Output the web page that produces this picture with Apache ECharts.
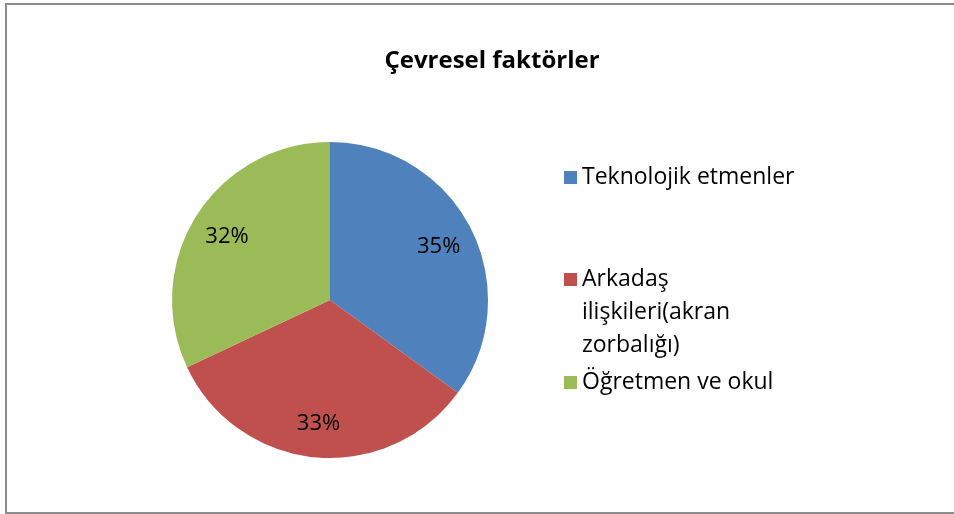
<!DOCTYPE html>
<html lang="tr">
<head>
  <meta charset="UTF-8">
  <title>Çevresel faktörler</title>
  <script src="https://cdn.jsdelivr.net/npm/echarts@6/dist/echarts.min.js"></script>
  <style>
    body { margin: 0; background: #fff; }
    #frame { position: absolute; left: 5px; top: 3px; width: 960px; height: 507px; border: 2px solid #8c8c8c; }
    #chart { position: absolute; left: 0; top: 0; width: 954px; height: 514px; }
  </style>
</head>
<body>
<div id="frame"></div>
<div id="chart"></div>
<script>
// veriler
var categories = ['Teknolojik etmenler', 'Arkadaş ilişkileri(akran zorbalığı)', 'Öğretmen ve okul'];
var values = [35, 33, 32];
var colors = ['#4F81BD', '#C0504D', '#9BBB59'];

var FONT = '"Open Sans", Lato, sans-serif';

var chart = echarts.init(document.getElementById('chart'));

var pieData = categories.map(function (name, i) {
  return { name: name, value: values[i], itemStyle: { color: colors[i] } };
});

// ayrı legend'lar: aralıklar eşit değil
// 2. öğe üç satır: kare ilk satırda dursun diye ikon kutusu uzatıldı
var legendTops = [156, 258, 361];
var legends = categories.map(function (name, i) {
  var multi = i === 1;
  return {
    orient: 'vertical',
    left: 559,
    top: legendTops[i],
    data: [name],
    icon: multi ? 'path://M0,0L13,0L13,13L0,13Z M0,79L0.01,79' : 'rect',
    itemWidth: 13,
    itemHeight: multi ? 79 : 13,
    itemGap: 0,
    selectedMode: false,
    textStyle: {
      fontFamily: FONT,
      fontSize: 23,
      color: '#000',
      lineHeight: 33,
      width: multi ? 200 : undefined,
      overflow: multi ? 'break' : 'none'
    }
  };
});

chart.setOption({
  animation: false,
  textStyle: { fontFamily: FONT },
  title: {
    text: 'Çevresel faktörler',
    left: 487,
    top: 44,
    textAlign: 'center',
    textStyle: { fontFamily: FONT, fontSize: 24, fontWeight: 'bold', color: '#000' }
  },
  legend: legends,
  series: [
    {
      type: 'pie',
      center: [330, 300],
      radius: [0, 158],
      startAngle: 90,
      clockwise: true,
      silent: true,
      label: { show: false },
      labelLine: { show: false },
      itemStyle: { borderWidth: 0 },
      data: pieData
    },
    {
      // sadece etiketler için saydam halka
      type: 'pie',
      center: [330, 302],
      radius: [80, 158],
      startAngle: 90,
      clockwise: true,
      silent: true,
      legendHoverLink: false,
      itemStyle: { color: 'rgba(0,0,0,0)', borderWidth: 0 },
      label: {
        show: true,
        position: 'inside',
        formatter: function (p) { return p.value + '%'; },
        fontFamily: FONT,
        fontSize: 22,
        color: '#000'
      },
      labelLine: { show: false },
      data: categories.map(function (name, i) {
        return { name: name + ' ', value: values[i] };
      })
    }
  ]
});
</script>
</body>
</html>
